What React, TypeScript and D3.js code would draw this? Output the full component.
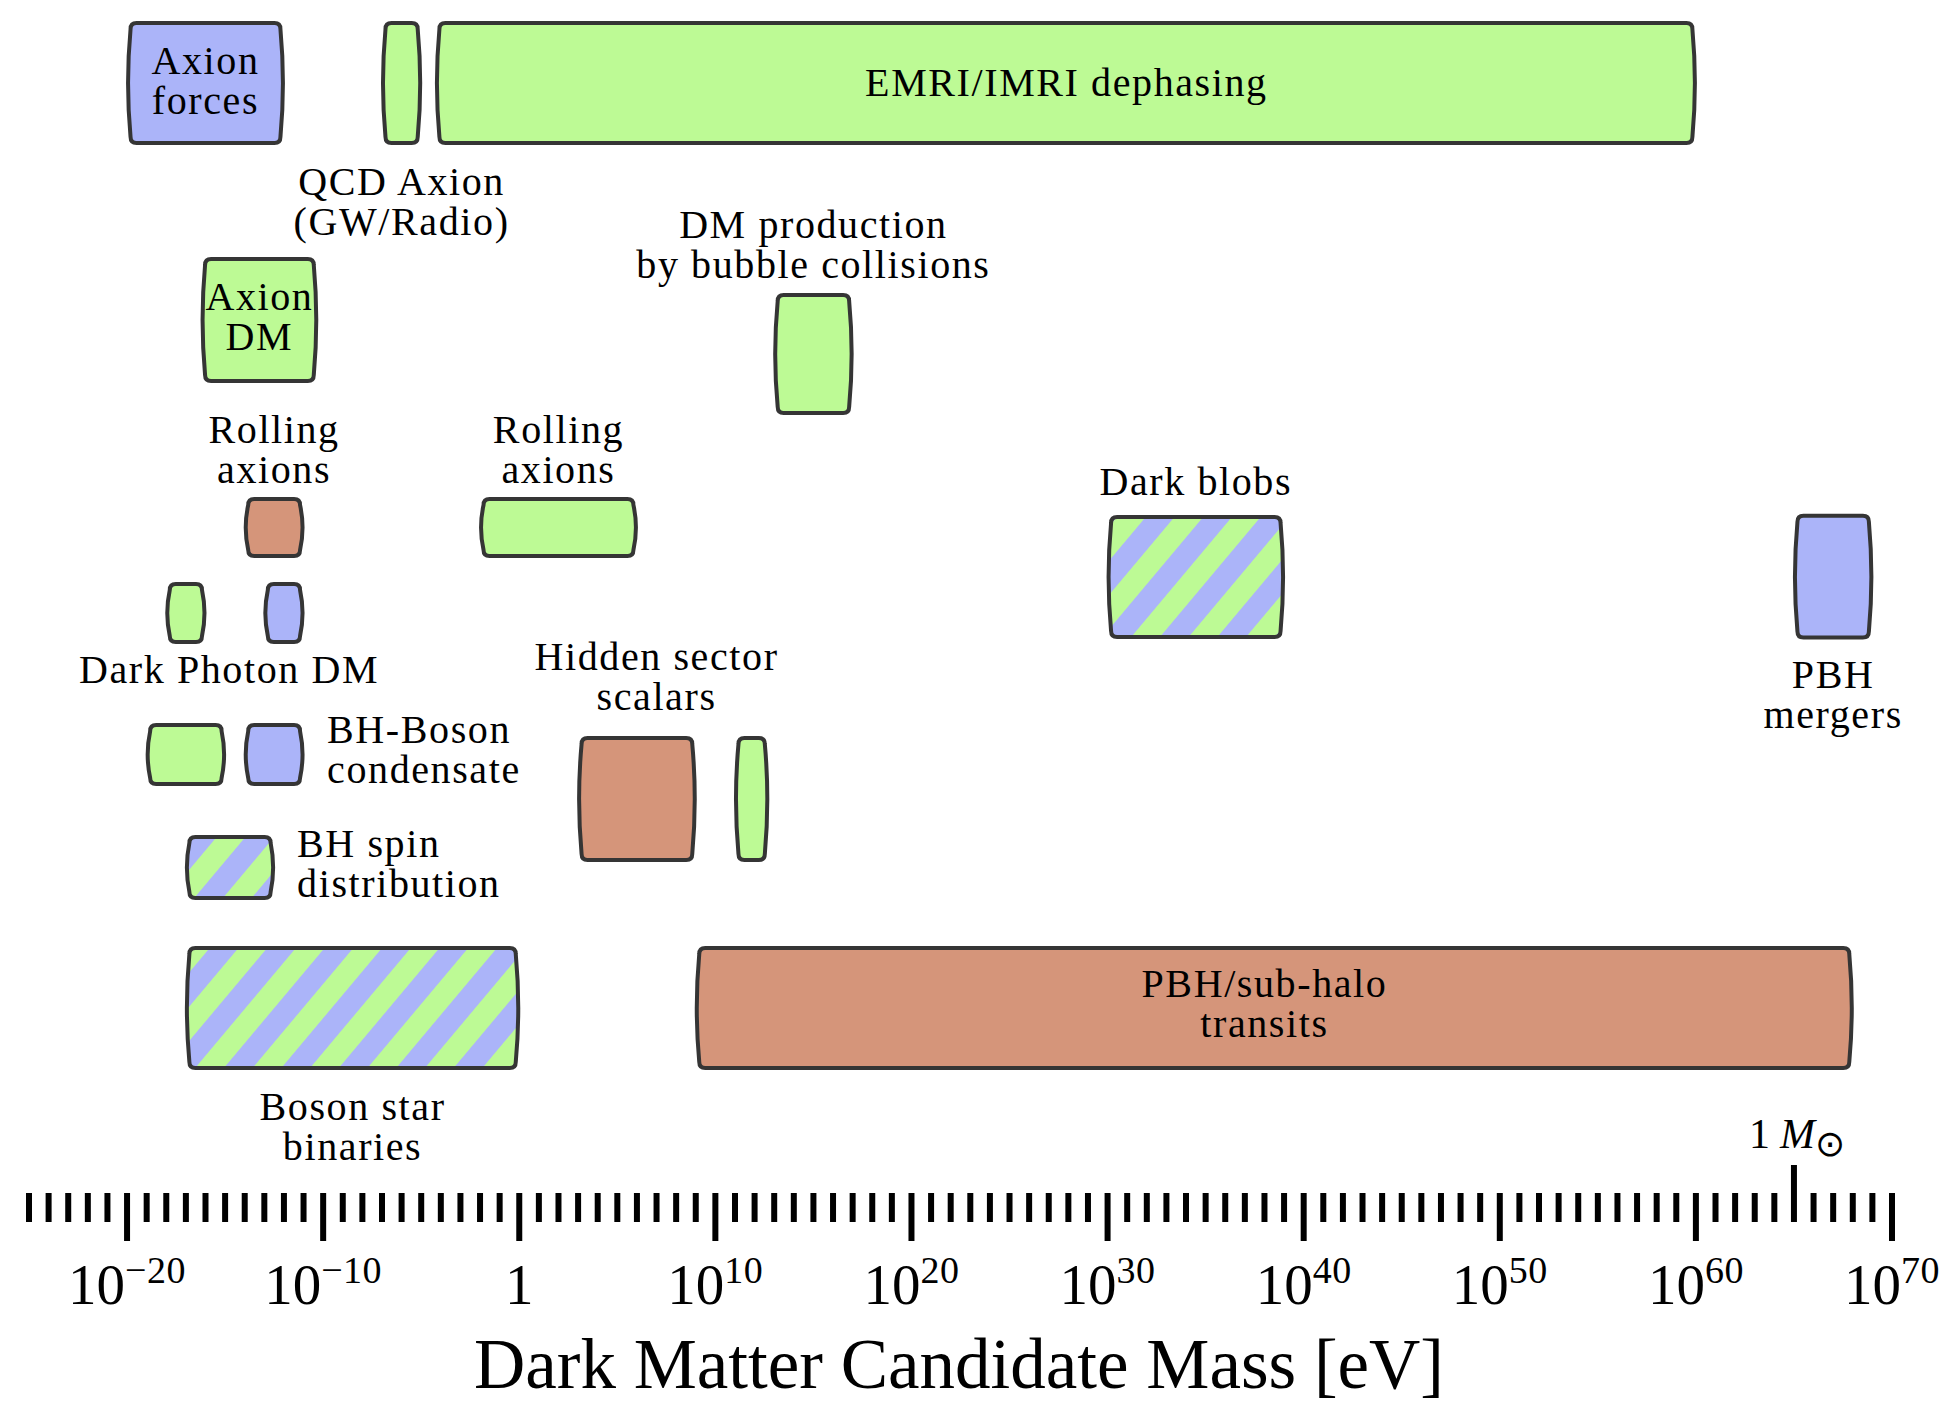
import React from "react";
import * as d3 from "d3";

// ---------- data ----------
// mass ranges in log10(m / eV)
const boxNames = [
  "Axion forces", "QCD Axion (GW/Radio)", "EMRI/IMRI dephasing", "Axion DM",
  "DM production by bubble collisions", "Rolling axions (a)", "Rolling axions (b)",
  "Dark Photon DM (a)", "Dark Photon DM (b)", "Dark blobs", "PBH mergers",
  "BH-Boson condensate (a)", "BH-Boson condensate (b)", "Hidden sector scalars (a)",
  "Hidden sector scalars (b)", "BH spin distribution", "Boson star binaries", "PBH/sub-halo transits",
];
const massLo = [-20, -7, -4.25, -16.2, 13, -14, -2, -18, -13, 30, 65, -19, -14, 3, 11, -17, -17, 9];
const massHi = [-12, -5, 60, -10.3, 17, -11, 6, -16, -11, 39, 69, -15, -11, 9, 12.7, -12.5, 0, 68];
// vertical lane coordinates (0 = top, 100 = bottom of figure)
const laneTop = [1.5, 1.5, 1.5, 18.3, 20.87, 35.4, 35.4, 41.45, 41.45, 36.68, 36.6, 51.5, 51.5, 52.42, 52.42, 59.47, 67.38, 67.38];
const laneBottom = [10.33, 10.33, 10.33, 27.28, 29.56, 39.74, 39.74, 45.87, 45.87, 45.51, 45.55, 55.98, 55.98, 61.4, 61.4, 64.1, 76.21, 76.21];
const boxKind = ["blue", "green", "green", "green", "green", "red", "green", "green", "blue", "mixed", "blue", "green", "blue", "red", "green", "mixed", "mixed", "red"];

const labelLines = [
  ["Axion", "forces"], ["QCD Axion", "(GW/Radio)"], ["EMRI/IMRI dephasing"], ["Axion", "DM"],
  ["DM production", "by bubble collisions"], ["Rolling", "axions"], ["Rolling", "axions"],
  ["Dark blobs"], ["Dark Photon DM"], ["PBH", "mergers"], ["BH-Boson", "condensate"],
  ["Hidden sector", "scalars"], ["BH spin", "distribution"], ["PBH/sub-halo", "transits"],
  ["Boson star", "binaries"],
];
const labelMass = [-16, -6, 27.9, -13.25, 15, -12.5, 2, 34.5, -14.8, 67, -9.8, 7, -11.33, 38, -8.5];
const labelLane = [5.27, 13.89, 6.84, 22.08, 16.95, 31.55, 31.55, 35.26, 48.65, 49.0, 52.92, 47.72, 61.04, 71.01, 79.77];
const labelAnchor = ["middle", "middle", "middle", "middle", "middle", "middle", "middle", "middle", "middle", "middle", "start", "middle", "start", "middle", "middle"];

const axisMin = -25;
const axisMax = 70;
const majorTicks = [-20, -10, 0, 10, 20, 30, 40, 50, 60, 70];
const solarMassTick = 65;
const axisTitle = "Dark Matter Candidate Mass [eV]";

// ---------- styles ----------
const W = 1955;
const H = 1404;
const FONT = "'Liberation Serif', 'Times New Roman', serif";
const colors: Record<string, string> = {
  green: "#bdfa95",
  blue: "#abb4f9",
  red: "#d5957a",
  mixed: "url(#hatch)",
};
const STROKE = "#353535";

function boxPath(x0: number, y0: number, x1: number, y1: number) {
  const r = 6;
  const b = 5;
  const ym = (y0 + y1) / 2;
  return `M${x0 + r},${y0} H${x1 - r} Q${x1},${y0} ${x1},${y0 + r} Q${x1 + b},${ym} ${x1},${y1 - r} Q${x1},${y1} ${x1 - r},${y1} H${x0 + r} Q${x0},${y1} ${x0},${y1 - r} Q${x0 - b},${ym} ${x0},${y0 + r} Q${x0},${y0} ${x0 + r},${y0} Z`;
}

export default function App() {
  const xScale = d3.scaleLinear().domain([axisMin, axisMax]).range([29, 1892]);
  const yScale = d3.scaleLinear().domain([0, 100]).range([0, H]);
  const ticks = d3.range(axisMin, axisMax + 1);

  const tickTop = 1193;
  const minorBottom = 1222;
  const majorBottom = 1241;
  const lineH = 40;

  return (
    <svg
      width={W}
      height={H}
      style={{ position: "absolute", left: 0, top: 0, background: "#fff" }}
      fontFamily={FONT}
    >
      <defs>
        <pattern id="hatch" patternUnits="userSpaceOnUse" width={44} height={44} patternTransform="rotate(40)">
          <rect x={0} y={0} width={44} height={44} fill={colors.blue} />
          <rect x={0} y={0} width={22} height={44} fill={colors.green} />
        </pattern>
      </defs>
      <rect x={0} y={0} width={W} height={H} fill="#fff" />

      {/* boxes */}
      {boxNames.map((name, i) => {
        const x0 = xScale(massLo[i]) + 3.5;
        const x1 = xScale(massHi[i]) - 3.5;
        const y0 = yScale(laneTop[i]) + 2;
        const y1 = yScale(laneBottom[i]) - 2;
        return (
          <path
            key={name}
            d={boxPath(x0, y0, x1, y1)}
            fill={colors[boxKind[i]]}
            stroke={STROKE}
            strokeWidth={4}
            strokeLinejoin="round"
          />
        );
      })}

      {/* labels */}
      {labelLines.map((lines, i) => (
        <text
          key={i}
          x={xScale(labelMass[i])}
          y={yScale(labelLane[i])}
          fontSize={40}
          letterSpacing={1.6}
          textAnchor={labelAnchor[i] as any}
          fill="#000"
        >
          {lines.map((ln, j) => (
            <tspan key={j} x={xScale(labelMass[i])} dy={j === 0 ? 0 : lineH}>
              {ln}
            </tspan>
          ))}
        </text>
      ))}

      {/* solar mass marker */}
      <text x={xScale(solarMassTick) - 45} y={yScale(81.77)} fontSize={42} fill="#000">
        <tspan>1</tspan>
        <tspan dx={10} fontStyle="italic">M</tspan>
        <tspan fontSize={36} dy={8}>⊙</tspan>
      </text>

      {/* ticks */}
      {ticks.map((t) => {
        const isMajor = t % 10 === 0;
        const isSun = t === solarMassTick;
        return (
          <line
            key={t}
            x1={xScale(t)}
            x2={xScale(t)}
            y1={isSun ? 1165 : tickTop}
            y2={isMajor ? majorBottom : minorBottom}
            stroke="#000"
            strokeWidth={6}
          />
        );
      })}

      {/* tick labels */}
      {majorTicks.map((t) => (
        <text key={t} x={xScale(t)} y={1304} fontSize={57} textAnchor="middle" fill="#000">
          {t === 0 ? (
            "1"
          ) : (
            <>
              <tspan>10</tspan>
              <tspan fontSize={38} dy={-21} letterSpacing={0.5}>{t < 0 ? `−${-t}` : `${t}`}</tspan>
            </>
          )}
        </text>
      ))}

      {/* axis title */}
      <text x={959} y={1388} fontSize={71} textAnchor="middle" fill="#000">
        {axisTitle}
      </text>
    </svg>
  );
}
